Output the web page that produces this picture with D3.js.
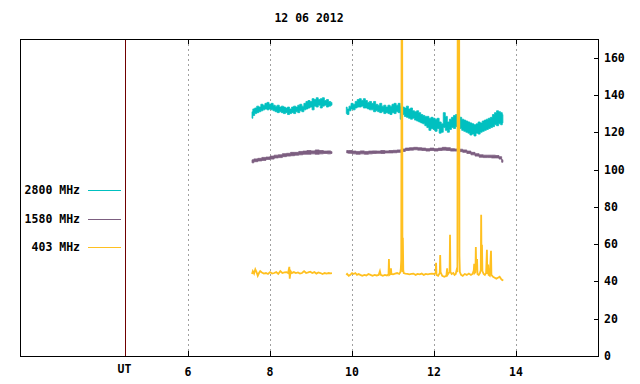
<!DOCTYPE html>
<html>
<head>
<meta charset="utf-8">
<script src="https://cdn.jsdelivr.net/npm/d3@7"></script>
<style>
  body { margin: 0; background: #fff; }
  text { font-family: "DejaVu Sans Mono", monospace; font-weight: bold; font-size: 11.5px; fill: #000; }
</style>
</head>
<body>
<div id="chart"></div>
<script>
var width = 640, height = 384;

var title = "12 06 2012";
var xTicks = [6, 8, 10, 12, 14];
var yTicks = [0, 20, 40, 60, 80, 100, 120, 140, 160];
var utHour = 4.45;

var labels = ["2800 MHz", "1580 MHz", "403 MHz"];
var colors = ["#00c0c0", "#7c5e80", "#ffc020"];

// 2800 MHz : [hour, low, high]
var f2800a = [
  [7.56,127.5,131.0],[7.60,129.0,132.5],[7.65,130.0,133.0],[7.70,130.5,134.0],[7.75,131.0,133.5],
  [7.80,131.5,135.0],[7.85,132.0,134.5],[7.90,132.5,135.5],[7.95,132.0,136.0],[8.00,132.5,135.0],
  [8.05,132.0,135.5],[8.10,131.5,134.5],[8.15,131.0,134.0],[8.20,130.5,134.5],[8.25,131.0,133.5],
  [8.30,130.5,134.0],[8.35,130.0,133.5],[8.40,130.5,133.0],[8.45,129.5,133.5],[8.50,130.0,132.5],
  [8.55,130.5,133.5],[8.60,130.0,134.0],[8.65,131.0,133.5],[8.70,130.5,134.5],[8.75,131.5,135.0],
  [8.80,131.0,134.0],[8.85,132.0,135.5],[8.90,132.5,136.5],[8.95,133.0,137.0],[9.00,133.5,136.5],
  [9.05,132.0,138.0],[9.10,134.0,137.5],[9.15,133.5,138.5],[9.20,134.5,137.5],[9.25,133.0,138.0],
  [9.30,134.0,138.5],[9.35,134.5,137.0],[9.40,133.5,137.5],[9.45,134.0,136.5],[9.51,134.5,136.0]
];
var f2800b = [
  [9.86,130.0,133.5],[9.90,129.5,132.5],[9.95,131.5,134.0],[10.00,132.5,135.5],[10.05,132.0,135.0],
  [10.10,133.0,136.5],[10.15,133.5,137.5],[10.20,133.5,138.0],[10.25,134.0,137.0],[10.30,133.0,138.0],
  [10.35,133.0,137.0],[10.40,132.5,136.0],[10.45,132.0,136.5],[10.50,132.0,135.5],[10.55,131.0,136.5],
  [10.60,131.5,135.0],[10.65,131.0,134.5],[10.70,130.5,135.5],[10.75,131.0,134.0],[10.80,130.0,134.5],
  [10.85,130.5,133.5],[10.90,130.0,134.5],[10.95,129.5,134.0],[11.00,130.5,135.0],[11.05,130.0,135.5],
  [11.10,131.0,134.5],[11.15,130.5,135.5],[11.20,127.0,134.0],[11.25,129.5,133.5],[11.30,128.5,133.0],
  [11.35,128.0,134.0],[11.40,127.5,132.5],[11.45,127.0,133.0],[11.50,127.5,131.5],[11.55,126.5,131.0],
  [11.60,126.0,131.5],[11.65,125.5,130.5],[11.70,125.0,129.5],[11.75,124.5,129.0],[11.80,123.5,128.5],
  [11.85,122.5,128.5],[11.90,121.0,127.5],[11.95,122.0,128.0],[12.00,121.5,127.5],[12.05,120.5,127.0],
  [12.10,122.0,127.5],[12.15,119.5,125.5],[12.20,120.0,124.5],[12.25,122.5,130.5],[12.30,121.0,128.5],
  [12.35,120.0,125.5],[12.40,121.5,127.0],[12.45,122.5,128.0],[12.50,122.0,129.0],[12.55,123.0,129.5],
  [12.60,122.5,128.5],[12.65,122.0,128.0],[12.70,121.0,127.0],[12.75,120.5,126.5],[12.80,120.0,126.0],
  [12.85,119.5,125.5],[12.90,118.5,125.0],[12.95,119.0,124.5],[13.00,118.0,124.0],[13.05,119.5,124.5],
  [13.10,119.0,125.5],[13.15,120.0,125.0],[13.20,120.5,126.0],[13.25,121.0,126.5],[13.30,121.5,127.0],
  [13.35,122.0,127.5],[13.40,122.5,128.0],[13.45,123.0,129.5],[13.50,124.0,130.5],[13.55,123.5,131.5],
  [13.60,124.5,131.0],[13.65,124.0,130.5],[13.68,125.0,129.5]
];

// 1580 MHz : [hour, low, high]
var f1580a = [
  [7.56,103.6,105.2],[7.65,104.2,105.7],[7.75,104.6,106.0],[7.85,104.9,106.5],[7.95,105.4,106.7],
  [8.05,105.6,107.2],[8.15,106.2,107.7],[8.25,106.4,107.9],[8.35,106.9,108.5],[8.45,107.2,108.7],
  [8.55,107.4,109.2],[8.65,107.7,109.2],[8.75,107.9,109.7],[8.85,108.2,109.9],[8.95,108.2,110.2],
  [9.05,108.4,110.0],[9.15,108.2,110.5],[9.25,108.4,110.2],[9.35,108.6,109.9],[9.45,108.4,110.0],
  [9.51,108.6,109.6]
];
var f1580b = [
  [9.87,108.9,110.2],[9.95,108.7,110.2],[10.05,108.4,109.9],[10.15,108.2,109.7],[10.25,108.4,110.0],
  [10.35,108.2,109.7],[10.45,108.4,109.9],[10.55,108.6,110.0],[10.65,108.7,109.9],[10.75,108.6,110.2],
  [10.85,108.9,110.0],[10.95,108.9,110.2],[11.05,109.0,110.3],[11.15,109.2,110.5],[11.25,109.7,111.0],
  [11.35,110.2,111.5],[11.45,110.4,111.7],[11.55,110.6,111.9],[11.65,110.4,111.7],[11.75,110.2,111.5],
  [11.85,109.9,111.2],[11.95,110.2,111.5],[12.05,109.9,111.2],[12.15,110.2,111.5],[12.25,110.4,111.9],
  [12.35,110.2,111.7],[12.45,109.9,111.2],[12.55,109.9,111.0],[12.65,109.6,110.9],[12.75,109.2,110.5],
  [12.85,108.6,109.9],[12.95,107.9,109.2],[13.05,107.2,108.5],[13.15,106.6,107.9],[13.25,106.4,107.7],
  [13.35,106.4,107.7],[13.45,106.2,107.7],[13.55,106.2,107.5],[13.62,105.6,106.9],[13.68,103.9,105.2]
];

// 403 MHz : [hour, value]
var f403a = [
  [7.56,44.0],[7.58,45.5],[7.61,44.2],[7.64,46.5],[7.67,45.0],[7.70,43.0],[7.73,44.5],[7.76,45.5],
  [7.80,44.8],[7.85,44.2],[7.90,44.5],[7.95,44.0],[8.00,45.0],[8.05,44.2],[8.10,44.5],[8.15,45.0],
  [8.20,44.0],[8.25,45.5],[8.30,44.5],[8.35,44.8],[8.40,45.0],[8.44,44.5],[8.47,47.8],[8.48,41.5],
  [8.50,45.5],[8.53,44.5],[8.58,45.0],[8.63,44.5],[8.68,44.8],[8.73,44.2],[8.78,44.5],[8.83,45.5],
  [8.88,44.5],[8.93,44.8],[8.98,45.2],[9.03,44.5],[9.08,45.0],[9.13,44.2],[9.18,44.8],[9.23,44.5],
  [9.28,44.0],[9.33,44.5],[9.38,44.2],[9.43,44.5],[9.48,44.3],[9.51,44.4]
];
var f403b = [
  [9.86,43.5],[9.88,44.0],[9.92,43.0],[9.96,43.5],[10.00,44.5],[10.04,44.0],[10.08,44.5],[10.12,43.5],
  [10.16,44.0],[10.20,43.5],[10.25,43.0],[10.30,43.5],[10.35,43.2],[10.40,44.0],[10.45,43.5],[10.50,43.0],
  [10.55,43.5],[10.60,43.2],[10.65,43.5],[10.68,45.5],[10.70,43.5],[10.75,43.0],[10.80,43.5],[10.85,43.2],
  [10.89,43.8],[10.90,52.0],[10.91,43.5],[10.94,44.0],[10.95,47.0],[10.96,44.0],[11.00,43.8],[11.05,44.2],
  [11.10,44.5],[11.15,44.0],[11.18,45.0],[11.19,47.0],[11.20,51.5],[11.213,240],[11.22,240],[11.23,45.0],
  [11.24,63.4],[11.25,46.0],[11.26,44.5],[11.30,44.2],[11.35,44.0],[11.40,43.8],[11.45,44.0],[11.50,44.2],
  [11.55,43.5],[11.60,44.0],[11.65,43.8],[11.70,44.2],[11.75,43.5],[11.80,44.0],[11.85,43.8],[11.90,44.0],
  [11.95,44.2],[12.00,44.0],[12.04,44.5],[12.05,50.0],[12.06,43.5],[12.10,43.0],[12.14,44.5],[12.15,54.2],
  [12.16,45.0],[12.20,43.0],[12.25,42.5],[12.30,43.0],[12.32,47.0],[12.33,43.5],[12.36,44.5],[12.38,45.0],
  [12.39,65.0],[12.40,45.0],[12.43,44.0],[12.47,44.5],[12.50,43.5],[12.53,44.0],[12.55,46.0],[12.57,45.0],
  [12.58,240],[12.61,240],[12.62,53.7],[12.63,45.0],[12.66,43.5],[12.70,43.0],[12.75,44.0],[12.80,43.5],
  [12.85,44.2],[12.90,43.5],[12.94,44.0],[12.97,46.0],[12.98,49.5],[12.99,44.5],[13.01,45.0],[13.02,58.5],
  [13.03,46.0],[13.05,52.0],[13.06,44.0],[13.09,43.5],[13.12,44.5],[13.14,46.0],[13.15,75.7],[13.16,47.0],
  [13.17,59.6],[13.18,45.5],[13.21,44.0],[13.24,43.5],[13.27,44.5],[13.29,57.0],[13.30,44.0],[13.32,49.0],
  [13.33,43.5],[13.36,43.0],[13.39,56.4],[13.40,43.5],[13.44,42.5],[13.48,42.0],[13.52,41.5],[13.56,42.0],
  [13.60,42.5],[13.63,41.5],[13.66,40.8],[13.69,40.5]
];

var mLeft = 20, mRight = 598, mTop = 39, mBottom = 356;

var x = d3.scaleLinear().domain([1.9, 16]).range([mLeft, mRight]);
var y = d3.scaleLinear().domain([0, 170]).range([mBottom, mTop]);

var svg = d3.select("#chart").append("svg")
    .attr("width", width)
    .attr("height", height);

svg.append("clipPath").attr("id", "plotclip")
  .append("rect")
    .attr("x", mLeft).attr("y", mTop)
    .attr("width", mRight - mLeft).attr("height", mBottom - mTop);

// dotted grid
svg.selectAll(".grid")
  .data(xTicks)
  .enter().append("line")
    .attr("class", "grid")
    .attr("x1", function(d){ return Math.round(x(d)) + 0.5; })
    .attr("x2", function(d){ return Math.round(x(d)) + 0.5; })
    .attr("y1", mTop)
    .attr("y2", mBottom)
    .attr("stroke", "#a0a0a0")
    .attr("stroke-dasharray", "2,3");

// UT line
svg.append("line")
    .attr("x1", Math.round(x(utHour)) + 0.5).attr("x2", Math.round(x(utHour)) + 0.5)
    .attr("y1", mTop).attr("y2", mBottom)
    .attr("stroke", "#700000");

var plot = svg.append("g").attr("clip-path", "url(#plotclip)");

var band = d3.area()
    .x(function(d){ return x(d[0]); })
    .y0(function(d){ return y(d[1]); })
    .y1(function(d){ return y(d[2]); })
    .curve(d3.curveStep);

[[f1580a, colors[1]], [f1580b, colors[1]], [f2800a, colors[0]], [f2800b, colors[0]]].forEach(function(s){
  plot.append("path")
    .datum(s[0])
    .attr("d", band)
    .attr("fill", s[1])
    .attr("stroke", s[1])
    .attr("stroke-width", 0.8);
});

var line = d3.line()
    .x(function(d){ return x(d[0]); })
    .y(function(d){ return y(d[1]); });

[f403a, f403b].forEach(function(s){
  plot.append("path")
    .datum(s)
    .attr("d", line)
    .attr("fill", "none")
    .attr("stroke", colors[2])
    .attr("stroke-width", 1.8);
});

// frame
svg.append("rect")
    .attr("x", mLeft + 0.5).attr("y", mTop + 0.5)
    .attr("width", mRight - mLeft).attr("height", mBottom - mTop)
    .attr("fill", "none")
    .attr("stroke", "#000");

// x ticks bottom and top
xTicks.forEach(function(t){
  var px = Math.round(x(t)) + 0.5;
  svg.append("line").attr("x1", px).attr("x2", px)
    .attr("y1", mBottom).attr("y2", mBottom - 5).attr("stroke", "#000");
  svg.append("line").attr("x1", px).attr("x2", px)
    .attr("y1", mTop).attr("y2", mTop + 5).attr("stroke", "#000");
});

svg.selectAll(".xlab")
  .data(xTicks)
  .enter().append("text")
    .attr("class", "xlab")
    .attr("x", function(d){ return x(d); })
    .attr("y", 376)
    .attr("text-anchor", "middle")
    .text(function(d){ return d; });

svg.append("text")
    .attr("x", x(utHour))
    .attr("y", 373)
    .attr("text-anchor", "middle")
    .text("UT");

// y ticks on the right
yTicks.forEach(function(t){
  var py = Math.round(y(t)) + 0.5;
  svg.append("line").attr("x1", mRight).attr("x2", mRight - 4)
    .attr("y1", py).attr("y2", py).attr("stroke", "#000");
});

svg.selectAll(".ylab")
  .data(yTicks)
  .enter().append("text")
    .attr("class", "ylab")
    .attr("x", 604)
    .attr("y", function(d){ return y(d); })
    .attr("dy", "0.35em")
    .text(function(d){ return d; });

// title
svg.append("text")
    .attr("x", 309)
    .attr("y", 22)
    .attr("text-anchor", "middle")
    .text(title);

// legend
labels.forEach(function(l, i){
  var ly = 190 + i * 28.5;
  svg.append("text")
    .attr("x", 80).attr("y", ly).attr("dy", "0.35em")
    .attr("text-anchor", "end")
    .text(l);
  svg.append("line")
    .attr("x1", 88).attr("x2", 121)
    .attr("y1", Math.round(ly) + 0.5).attr("y2", Math.round(ly) + 0.5)
    .attr("stroke", colors[i])
    .attr("shape-rendering", "crispEdges");
});
</script>
</body>
</html>
